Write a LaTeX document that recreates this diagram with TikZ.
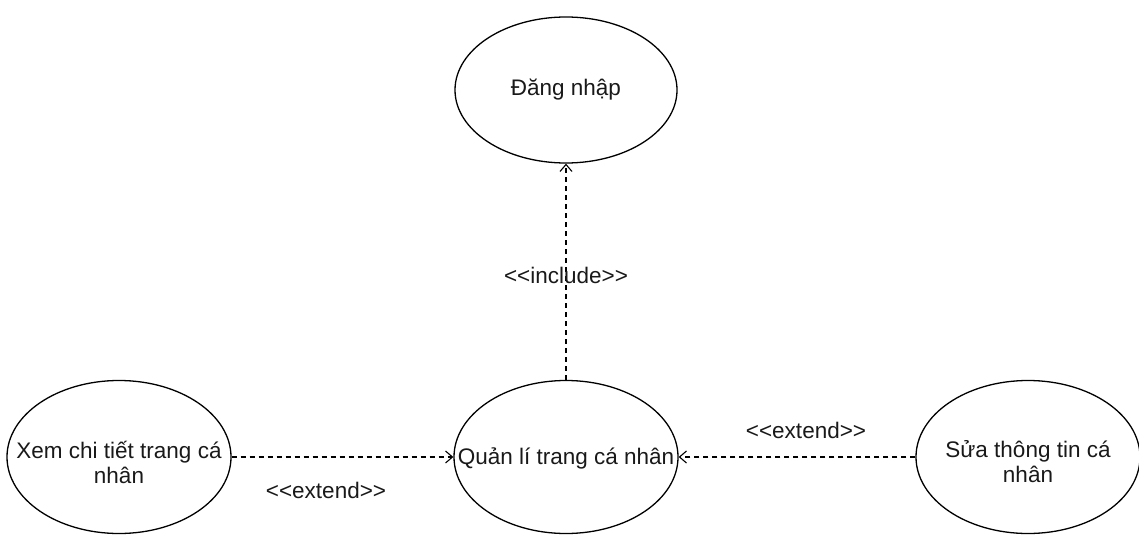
\documentclass[tikz,border=0pt]{standalone}
\usepackage{fontspec}
\setmainfont{Liberation Sans}
\usetikzlibrary{shapes.geometric,arrows.meta}
\begin{document}
\begin{tikzpicture}[x=1pt,y=-1pt,
  uc/.style={draw, ellipse, line width=1.3pt, minimum width=224pt, minimum height=153pt, inner sep=0pt},
  lbl/.style={font=\fontsize{22.5}{25}\selectfont, align=center, text=black!90},
  dep/.style={draw, line width=1.1pt, dash pattern=on 5pt off 4pt, -{Straight Barb[length=7pt,width=12pt]}}]
\useasboundingbox (0,0) rectangle (1139,537);
\node[uc, minimum width=222pt, minimum height=146pt] (dn) at (566,90) {};
\node[lbl] (dnt) at (566,90) {Đăng nhập};
\node[uc] (ql) at (566,457) {};
\node[lbl] (qlt) at (566,458) {Quản lí trang cá nhân};
\node[uc] (xem) at (119,457) {};
\node[lbl] (xemt) at (119,462) {Xem chi tiết trang cá\\nhân};
\node[uc] (sua) at (1028,457) {};
\node[lbl] (suat) at (1028,462) {Sửa thông tin cá\\nhân};
\draw[dep] (ql.north) -- (dn.south);
\draw[dep] (xem.east) -- (ql.west);
\draw[dep] (sua.west) -- (ql.east);
\node[lbl] (inc) at (566,275) {<{}<include>{}>};
\node[lbl] (ext1) at (326,490) {<{}<extend>{}>};
\node[lbl] (ext2) at (806,430) {<{}<extend>{}>};
\end{tikzpicture}
\end{document}
